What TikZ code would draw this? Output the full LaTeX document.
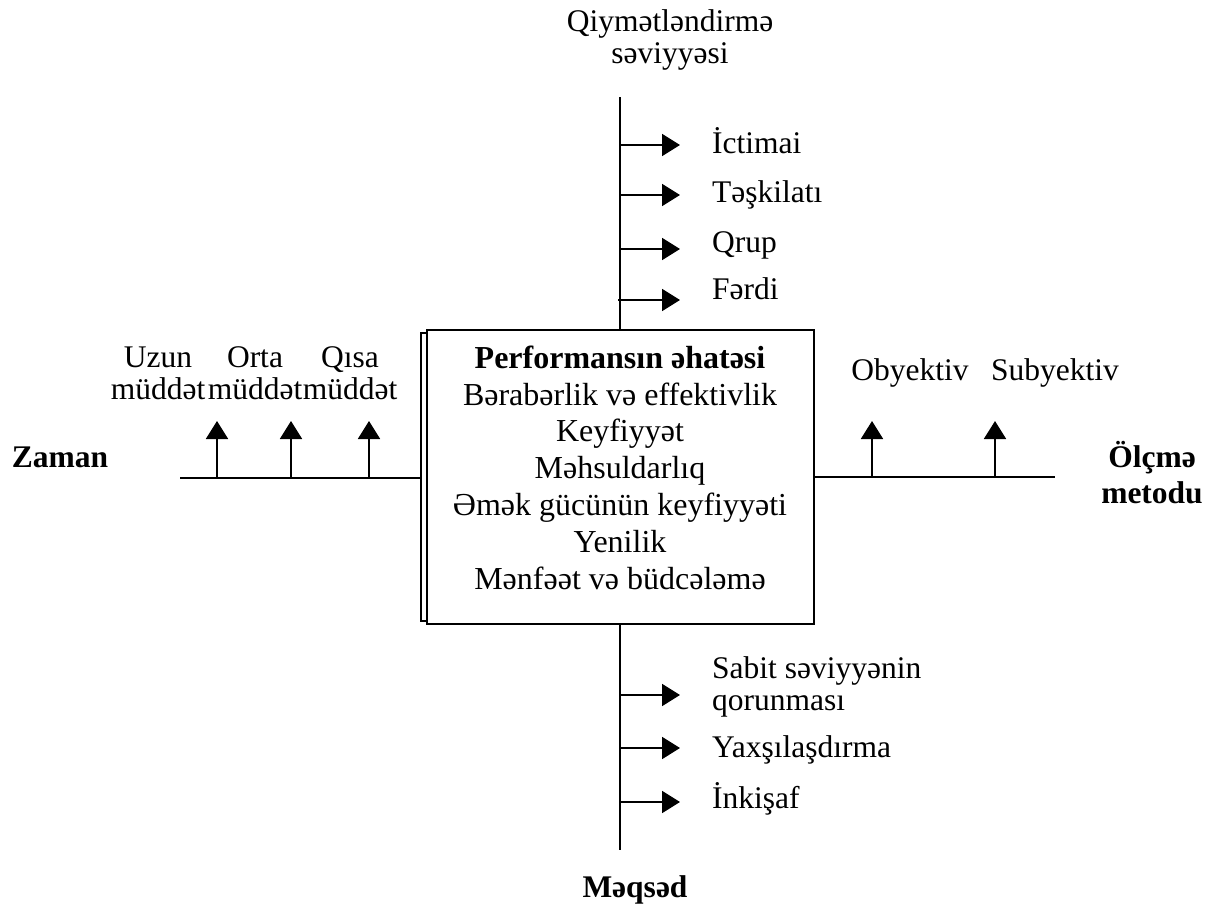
\documentclass[tikz,border=0pt]{standalone}
\usepackage{fontspec}
\setmainfont{Liberation Serif}
\usetikzlibrary{arrows.meta}
\begin{document}
\begin{tikzpicture}[x=1pt,y=-1pt,
  lab/.style={font=\fontsize{31.5}{32}\selectfont, inner sep=0pt, align=center},
  blab/.style={font=\fontsize{31.5}{36}\selectfont\bfseries, inner sep=0pt, align=center},
  conn/.style={line width=1.9pt},
  arr/.style={conn, -{Triangle[length=18pt,width=22pt]}},
  frame/.style={draw, line width=1.6pt, inner sep=0pt}
]
\useasboundingbox[fill=white] (0,0) rectangle (1221,908);

% central box
\node[frame, minimum width=387pt, minimum height=294pt] (box) at (620.5,477) {};
\draw[line width=1.5pt] ([yshift=-4pt]box.north west) -- ++(-5,0) -- ++(0,288) -- ++(5,0);
\node[font=\fontsize{32}{36.8}\selectfont, align=center, anchor=base, inner sep=0pt] (scopetext) at (620,589)
  {\textbf{Performansın əhatəsi}\\Bərabərlik və effektivlik\\Keyfiyyət\\Məhsuldarlıq\\Əmək gücünün keyfiyyəti\\Yenilik\\Mənfəət və büdcələmə};

% top axis
\node[lab, anchor=base] (qiym) at (670,63) {Qiymətləndirmə\\səviyyəsi};
\coordinate (ttop) at (620,97);
\draw[conn] (ttop) -- (ttop |- box.north);
\coordinate (ttip) at (680,0);
\coordinate (t1) at (620,145);
\coordinate (t2) at (620,195);
\coordinate (t3) at (620,249);
\coordinate (t4) at (618,300);
\node[lab, anchor=base west] (ictimai) at (712,153) {İctimai};
\node[lab, anchor=base west] (teskilati) at (712,202) {Təşkilatı};
\node[lab, anchor=base west] (qrup) at (712,252) {Qrup};
\node[lab, anchor=base west] (ferdi) at (712,299) {Fərdi};
\foreach \p in {t1,t2,t3,t4} \draw[arr] (\p) -- (\p -| ttip);

% bottom axis
\coordinate (bbot) at (620,850);
\draw[conn] (bbot |- box.south) -- (bbot);
\node[blab, anchor=base] (meqsed) at (635,897) {Məqsəd};
\coordinate (b1) at (620,695);
\coordinate (b2) at (620,748);
\coordinate (b3) at (620,802);
\node[lab, anchor=base west, align=left] (sabit) at (712,710) {Sabit səviyyənin\\qorunması};
\node[lab, anchor=base west] (yaxsi) at (712,757) {Yaxşılaşdırma};
\node[lab, anchor=base west] (inkisaf) at (712,808) {İnkişaf};
\foreach \p in {b1,b2,b3} \draw[arr] (\p) -- (\p -| ttip);

% left axis
\coordinate (zl) at (180,478);
\coordinate (zr) at (422,478);
\draw[conn] (zl) -- (zr);
\node[blab, anchor=base] (zaman) at (60,467) {Zaman};
\coordinate (ltip) at (0,421);
\coordinate (l1) at (217,478);
\coordinate (l2) at (291,478);
\coordinate (l3) at (369,478);
\foreach \p in {l1,l2,l3} \draw[arr] (\p) -- (\p |- ltip);
\node[lab, anchor=base] (uzun) at (158,399) {Uzun\\müddət};
\node[lab, anchor=base] (orta) at (255,399) {Orta\\müddət};
\node[lab, anchor=base] (qisa) at (350,399) {Qısa\\müddət};

% right axis
\coordinate (rr) at (1055,477);
\draw[conn] (box.east |- rr) -- (rr);
\node[blab, anchor=base] (olcme) at (1152,503) {Ölçmə\\metodu};
\coordinate (r1) at (872,477);
\coordinate (r2) at (995,477);
\foreach \p in {r1,r2} \draw[arr] (\p) -- (\p |- ltip);
\node[lab, anchor=base] (obyektiv) at (910,380) {Obyektiv};
\node[lab, anchor=base] (subyektiv) at (1055,380) {Subyektiv};
\end{tikzpicture}
\end{document}
